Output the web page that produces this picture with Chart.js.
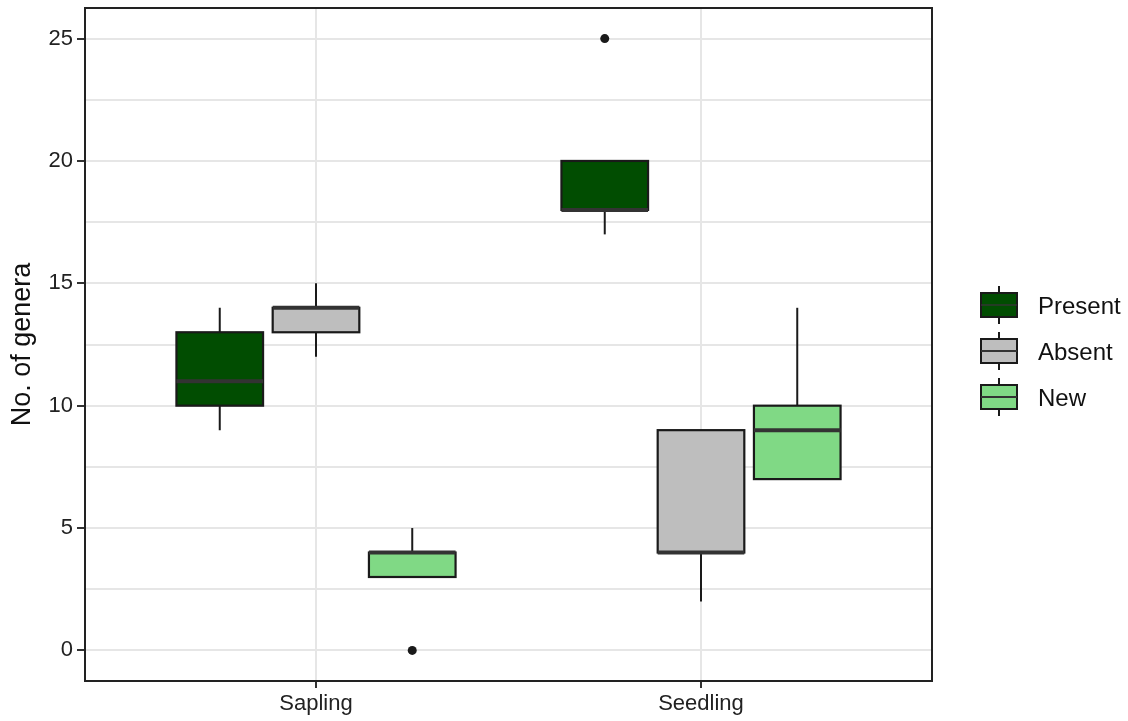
<!DOCTYPE html>
<html>
<head>
<meta charset="utf-8">
<script src="https://cdn.jsdelivr.net/npm/chart.js@4.4.1/dist/chart.umd.min.js"></script>
<style>
  html, body { margin: 0; padding: 0; background: #ffffff; }
  #wrap { width: 1128px; height: 721px; }
</style>
</head>
<body>
<div id="wrap"><canvas id="c" width="1128" height="721"></canvas></div>
<script>
// Categories on the x axis and the three groups drawn at each one
const categories = ['Sapling', 'Seedling'];
const groups = ['Present', 'Absent', 'New'];
const groupColors = ['#014d01', '#bebebe', '#80d985'];

// Five-number summaries per group, one value per category
const presentMin    = [9, 17];
const presentQ1     = [10, 18];
const presentMedian = [11, 18];
const presentQ3     = [13, 20];
const presentMax    = [14, 20];
const presentOutliers = [[], [25]];

const absentMin    = [12, 2];
const absentQ1     = [13, 4];
const absentMedian = [14, 4];
const absentQ3     = [14, 9];
const absentMax    = [15, 9];
const absentOutliers = [[], []];

const newMin    = [3, 7];
const newQ1     = [3, 7];
const newMedian = [4, 9];
const newQ3     = [4, 10];
const newMax    = [5, 14];
const newOutliers = [[0], []];

// y tick positions: major every 5, minor halfway between
const yTicks = [0, 2.5, 5, 7.5, 10, 12.5, 15, 17.5, 20, 22.5, 25];

const summaries = [
  { min: presentMin, q1: presentQ1, med: presentMedian, q3: presentQ3, max: presentMax, out: presentOutliers },
  { min: absentMin,  q1: absentQ1,  med: absentMedian,  q3: absentQ3,  max: absentMax,  out: absentOutliers },
  { min: newMin,     q1: newQ1,     med: newMedian,     q3: newQ3,     max: newMax,     out: newOutliers }
];

const dodge = 0.25;      // spacing between group centres, in category units
const boxWidth = 0.225;  // box width, in category units
const FONT = "'Liberation Sans', Arial, sans-serif";

// outlier points as scatter datasets
const datasets = summaries.map((s, g) => {
  const pts = [];
  categories.forEach((c, i) => {
    s.out[i].forEach(v => pts.push({ x: i + 1 + (g - 1) * dodge, y: v }));
  });
  return {
    label: groups[g],
    data: pts,
    pointRadius: 4.5,
    pointHoverRadius: 4.5,
    pointBackgroundColor: '#1a1a1a',
    pointBorderColor: '#1a1a1a',
    pointBorderWidth: 0
  };
});

const boxPlugin = {
  id: 'boxes',
  beforeDatasetsDraw(chart) {
    const { ctx, scales: { x, y } } = chart;
    const halfW = (x.getPixelForValue(boxWidth) - x.getPixelForValue(0)) / 2;
    ctx.save();
    summaries.forEach((s, g) => {
      categories.forEach((c, i) => {
        const cx = x.getPixelForValue(i + 1 + (g - 1) * dodge);
        const yMin = y.getPixelForValue(s.min[i]);
        const yQ1 = y.getPixelForValue(s.q1[i]);
        const yMed = y.getPixelForValue(s.med[i]);
        const yQ3 = y.getPixelForValue(s.q3[i]);
        const yMax = y.getPixelForValue(s.max[i]);
        // whiskers
        ctx.strokeStyle = '#1a1a1a';
        ctx.lineWidth = 2;
        ctx.beginPath();
        ctx.moveTo(cx, yMax); ctx.lineTo(cx, yQ3);
        ctx.moveTo(cx, yQ1); ctx.lineTo(cx, yMin);
        ctx.stroke();
        // box
        ctx.fillStyle = groupColors[g];
        ctx.fillRect(cx - halfW, yQ3, 2 * halfW, yQ1 - yQ3);
        ctx.strokeStyle = '#1a1a1a';
        ctx.lineWidth = 2.2;
        ctx.strokeRect(cx - halfW, yQ3, 2 * halfW, yQ1 - yQ3);
        // median
        ctx.strokeStyle = '#333333';
        ctx.lineWidth = 4;
        ctx.beginPath();
        ctx.moveTo(cx - halfW, yMed); ctx.lineTo(cx + halfW, yMed);
        ctx.stroke();
      });
    });
    ctx.restore();
  },
  afterDraw(chart) {
    const { ctx, chartArea: a } = chart;
    ctx.save();
    // panel frame
    ctx.strokeStyle = '#222222';
    ctx.lineWidth = 2;
    ctx.strokeRect(a.left, a.top, a.right - a.left, a.bottom - a.top);

    // legend
    const kx = a.right + 49, kw = 36, kh = 24;
    groups.forEach((name, g) => {
      const cy = 305 + g * 46;
      const mx = kx + kw / 2;
      ctx.strokeStyle = '#1a1a1a';
      ctx.lineWidth = 2;
      ctx.beginPath();
      ctx.moveTo(mx, cy - kh / 2 - 7); ctx.lineTo(mx, cy - kh / 2);
      ctx.moveTo(mx, cy + kh / 2); ctx.lineTo(mx, cy + kh / 2 + 7);
      ctx.stroke();
      ctx.fillStyle = groupColors[g];
      ctx.fillRect(kx, cy - kh / 2, kw, kh);
      ctx.strokeRect(kx, cy - kh / 2, kw, kh);
      ctx.strokeStyle = g === 0 ? '#4a2a4a' : '#333333';
      ctx.lineWidth = g === 0 ? 1 : 2;
      ctx.beginPath();
      ctx.moveTo(kx, cy); ctx.lineTo(kx + kw, cy);
      ctx.stroke();
      ctx.fillStyle = '#111111';
      ctx.font = '24px ' + FONT;
      ctx.textBaseline = 'middle';
      ctx.textAlign = 'left';
      ctx.fillText(name, kx + kw + 21, cy + 2);
    });
    ctx.restore();
  }
};

new Chart(document.getElementById('c'), {
  type: 'scatter',
  data: { datasets },
  options: {
    responsive: false,
    animation: false,
    events: [],
    layout: { padding: { left: 0, right: 196, top: 8, bottom: 0 } },
    plugins: { legend: { display: false }, tooltip: { enabled: false } },
    scales: {
      x: {
        type: 'linear',
        min: 0.4,
        max: 2.6,
        afterBuildTicks(scale) { scale.ticks = categories.map((c, i) => ({ value: i + 1 })); },
        afterFit(scale) {
          scale.height = 40;
          scale.paddingLeft = 0;
          scale.paddingRight = 0;
        },
        ticks: {
          callback: v => categories[v - 1],
          font: { family: FONT, size: 22 },
          color: '#222222',
          padding: 3,
          maxRotation: 0,
          autoSkip: false
        },
        grid: { color: '#e6e6e6', lineWidth: 2, tickLength: 7, tickColor: '#333333', tickWidth: 2 },
        border: { display: false }
      },
      y: {
        type: 'linear',
        min: -1.25,
        max: 26.25,
        afterBuildTicks(scale) { scale.ticks = yTicks.map(v => ({ value: v })); },
        afterFit(scale) {
          scale.width = 85;
          scale.paddingTop = 0;
          scale.paddingBottom = 0;
        },
        ticks: {
          callback: v => (v % 5 === 0 ? String(v) : ''),
          font: { family: FONT, size: 22 },
          color: '#222222',
          padding: 4,
          autoSkip: false
        },
        grid: {
          color: '#e6e6e6',
          lineWidth: 2,
          tickLength: 8,
          tickWidth: 2,
          tickColor: c => (c.tick && c.tick.value % 5 === 0 ? '#333333' : 'rgba(0,0,0,0)')
        },
        border: { display: false },
        title: {
          display: true,
          text: 'No. of genera',
          font: { family: FONT, size: 27 },
          color: '#111111',
          padding: { top: 6, bottom: 0 }
        }
      }
    }
  },
  plugins: [boxPlugin]
});
</script>
</body>
</html>
